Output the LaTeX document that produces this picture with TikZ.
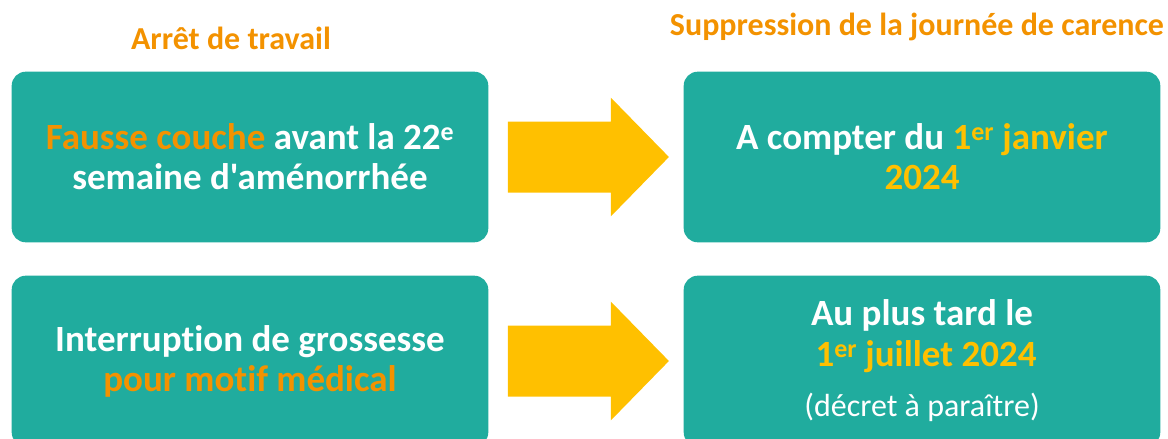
\documentclass[tikz,border=0pt]{standalone}
\usepackage{fontspec}
\setmainfont{Carlito}[Ligatures={TeXOff,CommonOff}]
\usepackage{xcolor}
\usepackage{tikz}
\usetikzlibrary{calc}
\definecolor{boxteal}{HTML}{20AC9E}
\definecolor{txtorange}{HTML}{F39200}
\definecolor{txtyellow}{HTML}{FFC000}
\tikzstyle{node:box}=[rounded corners=14pt,fill=boxteal,text=white,minimum width=476.6pt,minimum height=170.6pt,align=center,inner sep=0pt,font=\fontsize{37}{40}\selectfont\bfseries]
\tikzstyle{node:title}=[anchor=base,inner sep=0pt,text=txtorange,font=\fontsize{32}{36}\selectfont\bfseries]
\tikzstyle{draw:arrow}=[fill=txtyellow]
\newcommand{\bigarrow}[2]{%
  \fill[draw:arrow] ($(#1.east)+(19.4,-35.5)$) -- ($(#1.east)+(122.4,-35.5)$)
    -- ($(#1.east)+(122.4,-59.3)$) -- ($(#2.west)+(-14.6,0)$)
    -- ($(#1.east)+(122.4,59.3)$) -- ($(#1.east)+(122.4,35.5)$)
    -- ($(#1.east)+(19.4,35.5)$) -- cycle;}
\begin{document}
\begin{tikzpicture}[x=1pt, y=-1pt]
        \path[use as bounding box, clip] (0,0) rectangle (1168,439);

        % Titles
        \node[node:title] (t_arret) at (231,49) {Arrêt de travail};
        \node[node:title] (t_carence) at (917,35) {Suppression de la journée de carence};

        % Situations
        \node[node:box] (fausse) at (250,157) {{\color{txtorange}Fausse couche} avant la 22\textsuperscript{e}\\semaine d'aménorrhée};
        \node[node:box] (img) at (250,361) {Interruption de grossesse\\{\color{txtorange}pour motif médical}};

        % Dates
        \node[node:box] (janvier) at (922,157) {A compter du {\color{txtyellow}1\textsuperscript{er} janvier}\\{\color{txtyellow}2024}};
        \node[node:box] (juillet) at (922,361) {Au plus tard le\\[1pt]\hspace*{8pt}{\color{txtyellow}1\textsuperscript{er} juillet 2024}\\[10pt]{\fontsize{32}{40}\selectfont\mdseries (décret à paraître)}};

        % Arrows
        \bigarrow{fausse}{janvier}
        \bigarrow{img}{juillet}

    \end{tikzpicture}
\end{document}
